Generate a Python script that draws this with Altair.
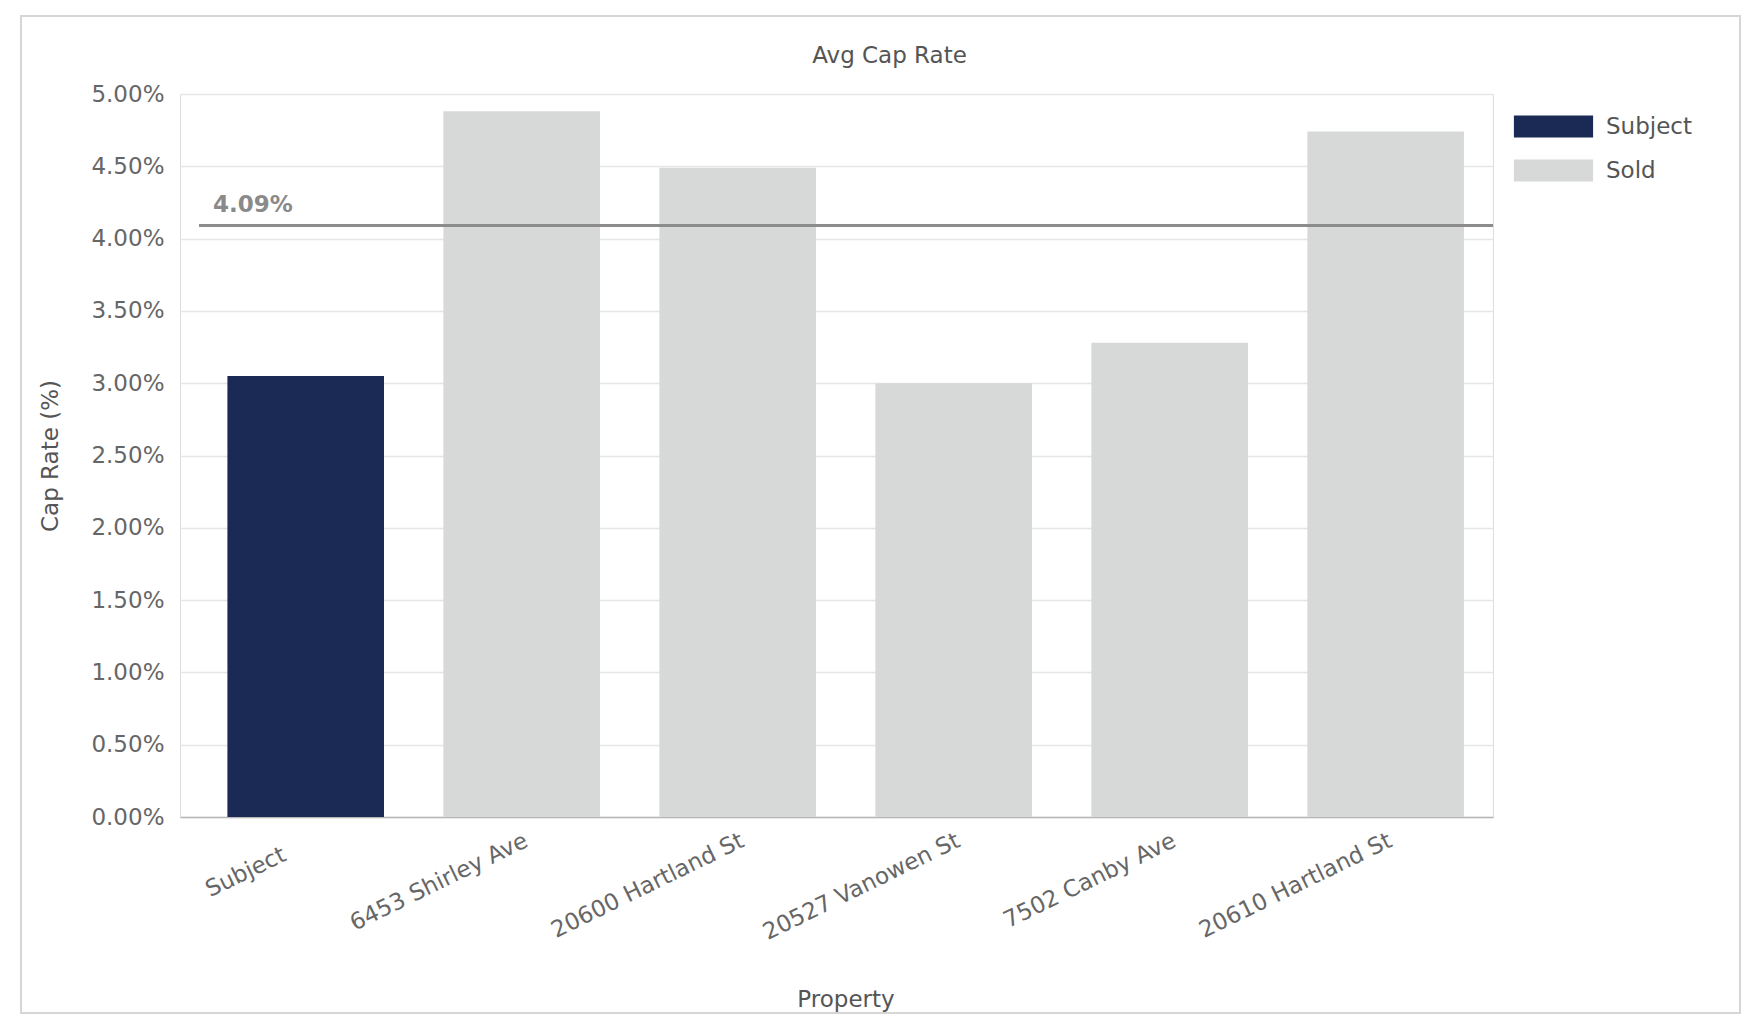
import altair as alt
import pandas as pd

properties = ["Subject", "6453 Shirley Ave", "20600 Hartland St",
              "20527 Vanowen St", "7502 Canby Ave", "20610 Hartland St"]
kinds = ["Subject", "Sold", "Sold", "Sold", "Sold", "Sold"]
cap_rates = [3.05, 4.88, 4.49, 3.00, 3.28, 4.74]   # percent
avg_values = [4.09]
avg_labels = ["4.09%"]
y_ticks = [0, 0.5, 1.0, 1.5, 2.0, 2.5, 3.0, 3.5, 4.0, 4.5, 5.0]

FONT = "DejaVu Sans"
W, H = 1313, 723

df = pd.DataFrame({"Property": properties, "Type": kinds,
                   "Rate": [v / 100 for v in cap_rates]})
avg_df = pd.DataFrame({"Avg": [v / 100 for v in avg_values], "Label": avg_labels})

x_enc = alt.X("Property:N", sort=properties,
              scale=alt.Scale(paddingInner=0.275, paddingOuter=0.177, align=0.62),
              axis=alt.Axis(title="Property", labelAngle=-26, labelFontSize=23,
                            labelColor="#666666", labelFont=FONT, labelLimit=0,
                            labelPadding={"condition": {"test": "datum.value == 'Subject'", "value": 26}, "value": 12},
                            labelOffset={"condition": {"test": "datum.value == 'Subject'", "value": -26}, "value": 0},
                            ticks=False, domainColor="#b8b8b8", domainWidth=1.5,
                            titleFontSize=23, titleFont=FONT, titleColor="#555555",
                            titleFontWeight="normal", titlePadding=44, titleX=W / 2 + 9,
                            grid=False))
y_scale = alt.Scale(domain=[0, 0.05], nice=False)

bars = alt.Chart(df).mark_bar().encode(
    x=x_enc,
    y=alt.Y("Rate:Q", scale=y_scale,
            axis=alt.Axis(title="Cap Rate (%)", values=[v / 100 for v in y_ticks],
                          format=".2%", labelFontSize=23, labelColor="#666666",
                          labelFont=FONT, labelPadding=16, ticks=False, domain=False,
                          gridColor="#e6e6e6", gridWidth=1.5,
                          titleFontSize=23, titleFont=FONT, titleColor="#555555",
                          titleFontWeight="normal", titlePadding=28)),
    color=alt.Color("Type:N",
                    scale=alt.Scale(domain=["Subject", "Sold"],
                                    range=["#1b2a54", "#d7d8d8"]),
                    legend=alt.Legend(title=None, orient="none", legendX=1333,
                                      legendY=21, symbolType="M-3.6,-1H3.6V1H-3.6Z",
                                      symbolSize=484, symbolStrokeWidth=0,
                                      symbolOffset=29, labelOffset=41,
                                      labelFontSize=23, labelFont=FONT,
                                      labelColor="#555555", rowPadding=20)),
)

avg_rule = alt.Chart(avg_df).mark_rule(color="#8c8c8c", strokeWidth=3).encode(
    y=alt.Y("Avg:Q", scale=y_scale),
    x=alt.value(19), x2=alt.value(W),
)
avg_text = alt.Chart(avg_df).mark_text(
    align="left", baseline="middle", dx=0, dy=-21, font=FONT, fontSize=23,
    fontWeight="bold", color="#8a8a8a"
).encode(y=alt.Y("Avg:Q", scale=y_scale), x=alt.value(33), text="Label:N")

frame = alt.Chart(alt.Data(values=[{"a": 1}])).mark_rect(
    fillOpacity=0, stroke="#d6d6d6", strokeWidth=2
).encode(x=alt.value(-159), x2=alt.value(1560), y=alt.value(-78), y2=alt.value(919))

chart = alt.layer(frame, bars, avg_rule, avg_text).properties(
    width=W, height=H,
    padding={"left": 12, "top": 7, "right": 0, "bottom": 0},
    title=alt.TitleParams("Avg Cap Rate", fontSize=23, font=FONT, color="#555555",
                          fontWeight="normal", anchor="middle", frame="bounds",
                          offset=-53, dx=9),
).configure_view(stroke=None).configure(background="white")

chart.save("out.html", embed_options={"renderer": "svg", "actions": False})
